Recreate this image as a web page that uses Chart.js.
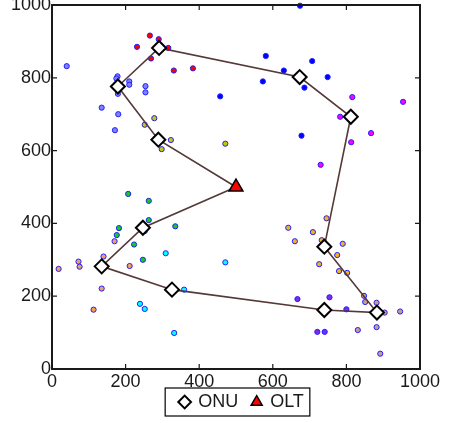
<!DOCTYPE html>
<html>
<head>
<meta charset="utf-8">
<script src="https://cdn.jsdelivr.net/npm/chart.js@4"></script>
<style>
  html, body { margin: 0; padding: 0; background: #fff; }
  #wrap { width: 454px; height: 423px; }
</style>
</head>
<body>
<div id="wrap"><canvas id="plot" width="454" height="423"></canvas></div>
<script>
// clusters of users, one colour each
const redPts = [[266,916],[290,906],[231,885],[316,882],[269,853],[331,820],[383,826]];
const slatePts = [[40,832],[178,804],[175,798],[210,790],[210,781],[254,777],[254,760],[179,756],[135,718],[180,700],[171,656]];
const olivePts = [[278,689],[252,671],[323,629],[298,604],[284,636],[471,619]];
const bluePts = [[674,998],[581,860],[707,846],[630,820],[749,802],[573,790],[686,773],[678,641],[457,749]];
const magentaPts = [[816,747],[954,734],[783,693],[811,701],[867,648],[813,623],[730,561]];
const greenPts = [[207,481],[263,462],[263,409],[182,387],[176,368],[335,392],[223,342],[247,300]];
const peachPts = [[18,275],[72,295],[75,281],[170,351],[140,309],[140,286],[135,221],[211,283],[113,163]];
const cyanPts = [[309,318],[471,293],[326,222],[359,218],[239,179],[252,165],[332,99],[252,379]];
const violetPts = [[667,192],[754,197],[800,164],[721,102],[741,102]];
const tanPts = [[848,201],[851,184],[882,182],[904,155],[946,158],[831,107],[882,115],[892,42]];
const goldPts = [[642,388],[746,414],[660,351],[709,376],[733,354],[739,330],[790,344],[775,313],[726,288],[780,269],[802,264]];

const clusters = [redPts, slatePts, olivePts, bluePts, magentaPts, greenPts, peachPts, cyanPts, violetPts, tanPts, goldPts];
const clusterColors = ['#ff0000','#8080ff','#c4c41a','#0000ff','#ff00ff','#10d010','#f0a058','#00ffff','#8028f0','#d09a88','#f5b21a'];

// ONU positions in route order, OLT at centre
const onuX = [247, 135, 326, 740, 883, 740, 812, 673, 291, 179, 289];
const onuY = [388, 282, 218, 162, 155, 336, 693, 802, 882, 776, 630];
const oltX = [500];
const oltY = [500];

const ticks = [0, 200, 400, 600, 800, 1000];

const font = { family: '"Liberation Sans", Arial, sans-serif', size: 18 };

let datasets = clusters.map((pts, i) => ({
  label: 'c' + i,
  data: pts.map(p => ({ x: p[0], y: p[1] })),
  backgroundColor: clusterColors[i],
  borderColor: '#2020ff',
  borderWidth: 1,
  pointRadius: 2.6,
  showLine: false,
  clip: 8,
  order: 10
}));

// route: OLT -> ONUs -> OLT
const route = [{ x: oltX[0], y: oltY[0] }]
  .concat(onuX.map((x, i) => ({ x: x, y: onuY[i] })))
  .concat([{ x: oltX[0], y: oltY[0] }]);

datasets.push({
  label: 'route',
  data: route,
  showLine: true,
  borderColor: '#553838',
  borderWidth: 1.6,
  pointRadius: 0,
  order: 5
});
datasets.push({
  label: 'ONU',
  data: onuX.map((x, i) => ({ x: x, y: onuY[i] })),
  showLine: false,
  pointStyle: 'rectRot',
  pointRadius: 7,
  backgroundColor: '#ffffff',
  borderColor: '#000000',
  borderWidth: 2,
  order: 2
});
datasets.push({
  label: 'OLT',
  data: oltX.map((x, i) => ({ x: x, y: oltY[i] })),
  showLine: false,
  pointStyle: 'triangle',
  pointRadius: 8,
  backgroundColor: '#ff0000',
  borderColor: '#000000',
  borderWidth: 1.5,
  clip: false,
  order: 1
});

const frame = {
  id: 'frame',
  afterLayout(chart) {
    // nudge legend right and up, like the original figure
    const lg = chart.legend;
    lg.left += 12;
    lg.top -= 8;
    lg.bottom -= 8;
  },
  afterDraw(chart) {
    const ctx = chart.ctx, a = chart.chartArea;
    const sx = chart.scales.x, sy = chart.scales.y;
    ctx.save();
    ctx.strokeStyle = '#1a1a1a';
    ctx.lineWidth = 2;
    ctx.strokeRect(a.left, a.top, a.right - a.left, a.bottom - a.top);
    ctx.lineWidth = 1.2;
    ctx.beginPath();
    sx.ticks.forEach(t => {
      const p = sx.getPixelForValue(t.value);
      ctx.moveTo(p, a.bottom); ctx.lineTo(p, a.bottom - 5);
      ctx.moveTo(p, a.top); ctx.lineTo(p, a.top + 5);
    });
    sy.ticks.forEach(t => {
      const p = sy.getPixelForValue(t.value);
      ctx.moveTo(a.left, p); ctx.lineTo(a.left + 5, p);
      ctx.moveTo(a.right, p); ctx.lineTo(a.right - 5, p);
    });
    ctx.stroke();
    // legend box
    const hb = chart.legend.legendHitBoxes;
    if (hb && hb.length) {
      let l = Math.min(...hb.map(b => b.left)), r = Math.max(...hb.map(b => b.left + b.width));
      let t = Math.min(...hb.map(b => b.top)), bt = Math.max(...hb.map(b => b.top + b.height));
      ctx.lineWidth = 1.2;
      ctx.strokeStyle = '#000';
      ctx.strokeRect(l - 15, t - 5, r - l + 21, bt - t + 10);
    }
    ctx.restore();
  }
};

new Chart(document.getElementById('plot'), {
  type: 'scatter',
  data: { datasets: datasets },
  options: {
    responsive: false,
    animation: false,
    events: [],
    layout: { autoPadding: false, padding: { left: 0, right: 34, top: 5, bottom: -6 } },
    scales: {
      x: {
        type: 'linear', min: 0, max: 1000,
        afterBuildTicks: s => { s.ticks = ticks.map(v => ({ value: v })); },
        afterFit: s => { s.height = 18; s.paddingLeft = 0; s.paddingRight = 0; },
        grid: { display: false, drawTicks: false },
        border: { display: false },
        ticks: { font: font, color: '#1a1a1a', padding: 2, maxRotation: 0, callback: v => String(v) }
      },
      y: {
        type: 'linear', min: 0, max: 1000,
        afterBuildTicks: s => { s.ticks = ticks.map(v => ({ value: v })); },
        afterFit: s => { s.width = 52; s.paddingTop = 0; s.paddingBottom = 0; },
        grid: { display: false, drawTicks: false },
        border: { display: false },
        ticks: { font: font, color: '#1a1a1a', padding: 1, callback: v => String(v) }
      }
    },
    plugins: {
      tooltip: { enabled: false },
      legend: {
        position: 'bottom',
        fullSize: false,
        labels: {
          font: font,
          color: '#1a1a1a',
          usePointStyle: true,
          boxWidth: 9,
          boxHeight: 9,
          padding: 14,
          filter: it => it.text === 'ONU' || it.text === 'OLT',
          sort: (a, b) => a.datasetIndex - b.datasetIndex
        }
      }
    }
  },
  plugins: [frame]
});
</script>
</body>
</html>
